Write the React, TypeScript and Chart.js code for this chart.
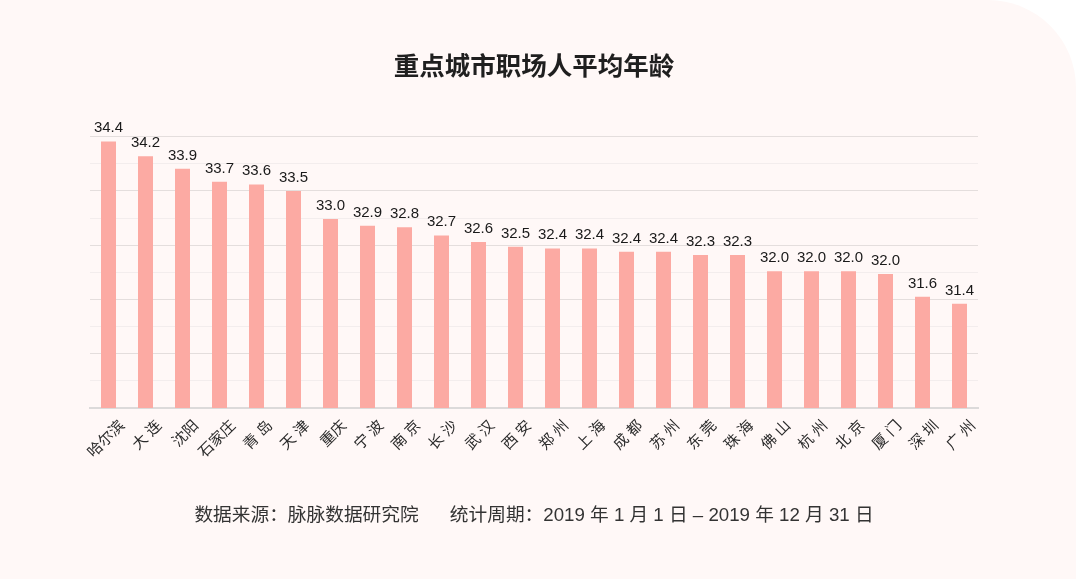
import { useEffect, useRef } from "react";
import { Chart, registerables } from "chart.js";

Chart.register(...registerables);

// ---- Data ----
const cities = [
  "哈尔滨", "大 连", "沈阳", "石家庄", "青 岛", "天 津", "重庆", "宁 波",
  "南 京", "长 沙", "武 汉", "西 安", "郑 州", "上 海", "成 都", "苏 州",
  "东 莞", "珠 海", "佛 山", "杭 州", "北 京", "厦 门", "深 圳", "广 州",
];
const avgAge = [
  34.41, 34.14, 33.91, 33.67, 33.62, 33.5, 32.98, 32.86,
  32.83, 32.68, 32.56, 32.47, 32.44, 32.44, 32.38, 32.38,
  32.32, 32.32, 32.02, 32.02, 32.02, 31.97, 31.55, 31.42,
];
const valueLabels = [
  "34.4", "34.2", "33.9", "33.7", "33.6", "33.5", "33.0", "32.9",
  "32.8", "32.7", "32.6", "32.5", "32.4", "32.4", "32.4", "32.4",
  "32.3", "32.3", "32.0", "32.0", "32.0", "32.0", "31.6", "31.4",
];
const yMin = 29.5;
const yMax = 34.5;
const yStep = 0.5;
const titleText = "重点城市职场人平均年龄";
const footerText =
  "数据来源：脉脉数据研究院      统计周期：2019 年 1 月 1 日 – 2019 年 12 月 31 日";

const LATIN_CJK = '"Liberation Sans", "Noto Sans CJK SC", sans-serif';
const CJK = '"Noto Sans CJK SC", sans-serif';

const valueLabelPlugin = {
  id: "valueLabels",
  afterDatasetsDraw(chart: any) {
    const ctx = chart.ctx;
    const meta = chart.getDatasetMeta(0);
    ctx.save();
    ctx.font = '15px "Liberation Sans", Arial, sans-serif';
    ctx.fillStyle = "#1a1a1a";
    ctx.textAlign = "center";
    ctx.textBaseline = "alphabetic";
    meta.data.forEach((bar: any, i: number) => {
      ctx.fillText(valueLabels[i], bar.x, bar.y - 9);
    });
    ctx.restore();
  },
};

export default function App() {
  const canvasRef = useRef<HTMLCanvasElement | null>(null);

  useEffect(() => {
    document.body.style.margin = "0";
    document.body.style.background = "#ffffff";
    const canvas = canvasRef.current;
    if (!canvas) return;
    const chart = new Chart(canvas, {
      type: "bar",
      data: {
        labels: cities,
        datasets: [
          {
            data: avgAge,
            backgroundColor: "#fcaaa3",
            borderWidth: 0,
            categoryPercentage: 1,
            barPercentage: 0.405,
          },
        ],
      },
      options: {
        responsive: false,
        animation: false,
        devicePixelRatio: 1,
        layout: { padding: { left: 90, right: 102, top: 0, bottom: 52 } },
        plugins: {
          legend: { display: false },
          tooltip: { enabled: false },
          title: {
            display: true,
            text: titleText,
            color: "#1f1f1f",
            font: { size: 25.5, weight: "bold", family: CJK, lineHeight: 1.2 },
            padding: { top: 50, bottom: 56 },
          },
          subtitle: {
            display: true,
            position: "bottom",
            text: footerText,
            color: "#333333",
            font: { size: 18.7, family: LATIN_CJK, lineHeight: 1.2 },
            padding: { top: 36.5, bottom: 0 },
          },
        },
        scales: {
          x: {
            grid: { display: false, drawTicks: false },
            border: { display: true, color: "#dcdada", width: 2 },
            ticks: {
              font: { size: 15, family: LATIN_CJK },
              color: "#2b2b2b",
              minRotation: 45,
              maxRotation: 45,
              autoSkip: false,
              padding: 9,
              labelOffset: 14,
            },
            afterFit: (scale: any) => {
              scale.height = 60;
            },
          },
          y: {
            min: yMin,
            max: yMax,
            border: { display: false },
            ticks: { display: false, stepSize: yStep },
            grid: {
              drawTicks: false,
              lineWidth: 1,
              color: (c: any) => {
                const v = c.tick ? c.tick.value : undefined;
                if (v === undefined || Math.abs(v - yMin) < 1e-6) return "rgba(0,0,0,0)";
                return Math.round(v * 2) % 2 === 1 ? "#e4dedd" : "#f3eded";
              },
            },
          },
        },
      },
      plugins: [valueLabelPlugin],
    });
    return () => chart.destroy();
  }, []);

  return (
    <div style={{ position: "fixed", left: 0, top: 0, width: 1080, height: 579, background: "#ffffff" }}>
      <div
        style={{
          position: "absolute",
          left: 0,
          top: 0,
          width: 1076,
          height: 579,
          background: "#fff8f7",
          borderTopRightRadius: 88,
        }}
      />
      <canvas
        ref={canvasRef}
        width={1080}
        height={579}
        style={{ position: "absolute", left: 0, top: 0, width: 1080, height: 579 }}
      />
    </div>
  );
}
